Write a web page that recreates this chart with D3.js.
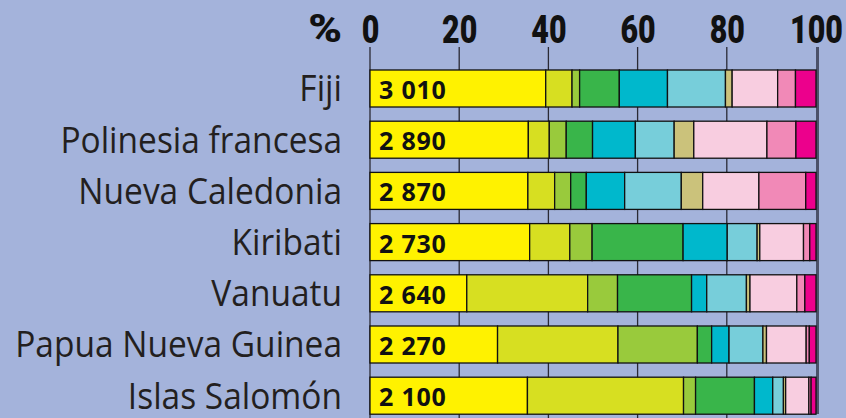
<!DOCTYPE html>
<html>
<head>
<meta charset="utf-8">
<script src="https://cdn.jsdelivr.net/npm/d3@7"></script>
<style>
  body { margin: 0; background: #a4b3db; }
  svg { display: block; }
</style>
</head>
<body>
<script>
// countries, top to bottom
const countries = ["Fiji", "Polinesia francesa", "Nueva Caledonia", "Kiribati",
    "Vanuatu", "Papua Nueva Guinea", "Islas Salomón"];
// total shown inside the bar
const totals = ["3 010", "2 890", "2 870", "2 730", "2 640", "2 270", "2 100"];

// share of each segment, in %, same order as countries
const seg1  = [39.4, 35.5, 35.4, 35.8, 21.7, 28.6, 35.3];
const seg2  = [5.9, 4.7, 6.0, 9.0, 27.1, 27.0, 35.0];
const seg3  = [1.7, 3.8, 3.6, 5.0, 6.7, 17.8, 2.7];
const seg4  = [8.9, 5.9, 3.5, 20.4, 16.6, 3.2, 13.2];
const seg5  = [10.8, 9.6, 8.6, 9.9, 3.4, 3.9, 4.1];
const seg6  = [13.0, 8.7, 12.7, 6.7, 8.9, 7.6, 2.4];
const seg7  = [1.5, 4.4, 4.8, 0.6, 0.8, 0.8, 0.5];
const seg8  = [10.2, 16.4, 12.6, 9.8, 10.5, 8.9, 5.2];
const seg9  = [4.0, 6.5, 10.5, 1.4, 1.8, 0.7, 0.5];
const seg10 = [4.6, 4.5, 2.3, 1.4, 2.5, 1.5, 1.1];

const series = [seg1, seg2, seg3, seg4, seg5, seg6, seg7, seg8, seg9, seg10];
const colors = ["#fff200", "#d7df21", "#99ca3c", "#39b54a", "#00b8cc",
    "#77ceda", "#cbc27b", "#f8cde0", "#f189b7", "#ec008c"];
const ticks = [0, 20, 40, 60, 80, 100];

const width = 846, height = 418;

let svg = d3.select("body")
    .append("svg")
    .attr("width", width)
    .attr("height", height);

let xScale = d3.scaleLinear()
    .domain([0, 100])
    .range([370, 816]);

let yScale = d3.scaleBand()
    .domain(countries)
    .range([62.9, 62.9 + 51.2 * 7])
    .paddingInner(0.277)
    .paddingOuter(0.1385);

// gridlines behind the bars
svg.append("g")
    .selectAll("line")
    .data(ticks)
    .enter()
    .append("line")
    .attr("x1", d => xScale(d))
    .attr("x2", d => xScale(d))
    .attr("y1", 47)
    .attr("y2", d => d == 100 ? 414 : 418)
    .attr("stroke", d => d == 100 ? "#4b5169" : "#2a2a35")
    .attr("stroke-width", d => d == 100 ? 3 : 1.3)
    .attr("transform", d => d == 100 ? "translate(1.5,0)" : null);

// stack the segments
let rows = countries.map((c, i) => {
    let x0 = 0;
    return series.map((s, k) => {
        let seg = {country: c, k: k, x0: x0, x1: x0 + s[i]};
        x0 += s[i];
        return seg;
    });
});

svg.append("g")
    .selectAll("g")
    .data(rows)
    .enter()
    .append("g")
    .selectAll("rect")
    .data(d => d)
    .enter()
    .append("rect")
    .attr("x", d => xScale(d.x0))
    .attr("y", d => yScale(d.country))
    .attr("width", d => xScale(d.x1) - xScale(d.x0))
    .attr("height", yScale.bandwidth())
    .attr("fill", d => colors[d.k])
    .attr("stroke", "#111")
    .attr("stroke-width", 1.3);

// totals inside the yellow segment
svg.append("g")
    .selectAll("text")
    .data(countries)
    .enter()
    .append("text")
    .attr("x", xScale(0) + 9)
    .attr("y", d => yScale(d) + 29)
    .attr("font-family", "Open Sans")
    .attr("font-weight", "bold")
    .attr("font-size", 25)
    .attr("letter-spacing", 0.8)
    .attr("fill", "#111")
    .text((d, i) => totals[i]);

// country names (condensed look by squeezing the text)
svg.append("g")
    .selectAll("g")
    .data(countries)
    .enter()
    .append("g")
    .attr("transform", d => "translate(342," + (yScale(d) + 31.5) + ")")
    .append("text")
    .attr("text-anchor", "end")
    .attr("transform", "scale(0.93,1)")
    .attr("font-family", "Open Sans")
    .attr("font-size", 36)
    .attr("fill", "#231f20")
    .text(d => d);

// top axis
let axis = svg.append("g")
    .attr("transform", "translate(0,43)")
    .call(d3.axisTop(xScale).tickValues(ticks).tickSize(0).tickPadding(0));
axis.select(".domain").remove();
axis.selectAll("text")
    .attr("transform", "scale(0.78,1)")
    .attr("font-family", "Roboto")
    .attr("font-weight", 900)
    .attr("font-size", 39)
    .attr("fill", "#111");

svg.append("g")
    .attr("transform", "translate(342,42)")
    .append("text")
    .attr("text-anchor", "end")
    .attr("transform", "scale(1.2,1)")
    .attr("font-family", "Roboto")
    .attr("font-weight", 900)
    .attr("font-size", 38)
    .attr("fill", "#111")
    .text("%");
</script>
</body>
</html>
